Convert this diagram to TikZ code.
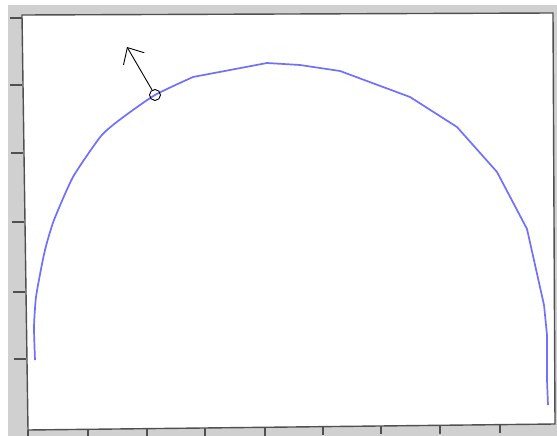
\documentclass[tikz,border=0pt]{standalone}
\usetikzlibrary{arrows.meta}
\definecolor{bgray}{HTML}{D0D0D0}
\definecolor{fgray}{HTML}{505050}
\definecolor{curveblue}{HTML}{7070FF}
\begin{document}
\begin{tikzpicture}[x=1pt,y=-1pt,
  frame/.style={draw=fgray,line width=1.4pt},
  tick/.style={draw=fgray,line width=1.2pt},
  curve/.style={draw=curveblue,line width=1.7pt,line join=round},
  marker/.style={circle,draw=black,line width=0.9pt,minimum size=11pt,inner sep=0pt},
  pointer/.style={draw=black,line width=0.9pt,-{Straight Barb[length=13pt,width=24pt,line width=0.9pt]}}]
\useasboundingbox (0,0) rectangle (557,436);
\fill[white] (0,0) rectangle (557,436);
\fill[bgray] (8,5) rectangle (557,436);
\fill[white] (22,15) -- (553,13) -- (555,424) -- (28,430) -- cycle;
% ticks left
\foreach \yy/\xx in {18/22,85/22,153/23,222/24,292/25,359/26}
  \draw[tick] (\xx,\yy) -- (\xx-12,\yy);
% ticks bottom
\foreach \xx/\yy in {28/430,88/429,147/429,205/428,265/428,323/427,381/426,440/426,500/425}
  \draw[tick] (\xx,\yy) -- (\xx,\yy+8);
\draw[frame] (22,15) -- (553,13) -- (555,424) -- (28,430) -- cycle;
% curve
\draw[curve] plot[smooth,tension=0.35] coordinates {(35,360) (34,327) (36,297) (42,264) (46,246) (54,220) (73,177) (101,136) (122,118) (155,95) (193,77)}
  -- (267,63) -- (300,65) -- (340,71) -- (410,97) -- (457,127) -- (497,172) -- (527,229) -- (544,305) -- (547,335) -- (547,380) -- (548,405);
\node[marker] (m) at (155,95) {};
\coordinate (tip) at (127,47);
\draw[pointer] (m) -- (tip);
\end{tikzpicture}
\end{document}
